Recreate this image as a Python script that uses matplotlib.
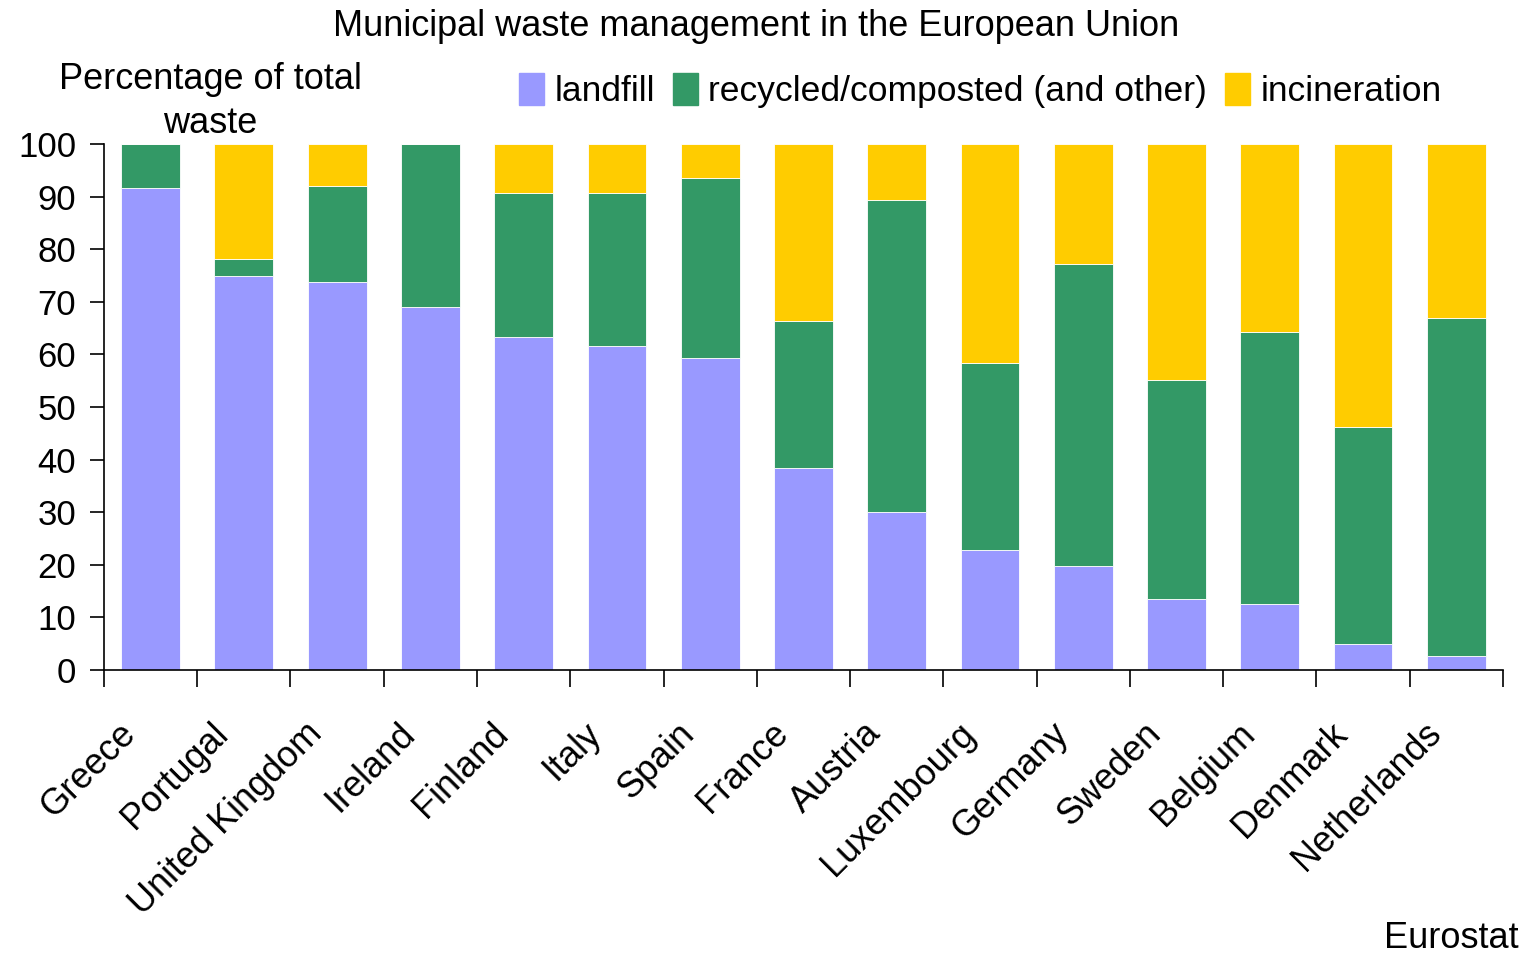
import numpy as np
import matplotlib.pyplot as plt
from matplotlib.patches import Patch
from matplotlib.transforms import ScaledTranslation

plt.rcParams['font.family'] = ['Liberation Sans', 'DejaVu Sans']

# donnees (en %)
pays = ['Greece', 'Portugal', 'United Kingdom', 'Ireland', 'Finland', 'Italy',
        'Spain', 'France', 'Austria', 'Luxembourg', 'Germany', 'Sweden',
        'Belgium', 'Denmark', 'Netherlands']
landfill = [91.6, 74.9, 73.8, 69.0, 63.3, 61.6, 59.3, 38.4, 30.0, 22.8, 19.8,
            13.5, 12.5, 4.9, 2.7]
recycled = [8.4, 3.2, 18.2, 31.0, 27.4, 29.1, 34.2, 27.9, 59.4, 35.6, 57.4,
            41.6, 51.8, 41.3, 64.2]
incineration = [0.0, 21.9, 8.0, 0.0, 9.3, 9.3, 6.5, 33.7, 10.6, 41.6, 22.8,
                44.9, 35.7, 53.8, 33.1]

couleurs = {'landfill': '#9999FF', 'recycled/composted (and other)': '#339966',
            'incineration': '#FFCC00'}

fig = plt.figure(figsize=(15.22, 9.56), dpi=100)
ax = fig.add_axes([0.0683, 0.2992, 0.9192, 0.5502])

x = np.arange(len(pays))
bas = np.zeros(len(pays))
for serie, nom in zip([landfill, recycled, incineration], couleurs):
    ax.bar(x, serie, bottom=bas, width=0.63, color=couleurs[nom],
           edgecolor='white', linewidth=0.6)
    bas = bas + np.array(serie)

ax.set_xlim(-0.5, len(pays) - 0.5)
ax.set_ylim(0, 100)
ax.set_yticks(range(0, 101, 10))
ax.tick_params(axis='y', labelsize=25, length=10, width=1.2, direction='out', pad=10)
ax.set_xticks(x)
ax.set_xticklabels(pays, rotation=45, ha='right', rotation_mode='anchor', fontsize=26)
ax.tick_params(axis='x', which='major', length=0, pad=33)
ax.set_xticks(np.arange(-0.5, len(pays), 1), minor=True)
ax.tick_params(axis='x', which='minor', length=12, width=1.2, direction='out')
decal = ScaledTranslation(-0.33, 0, fig.dpi_scale_trans)
for lbl in ax.get_xticklabels():
    lbl.set_transform(lbl.get_transform() + decal)
for s in ['top', 'right']:
    ax.spines[s].set_visible(False)
ax.spines['left'].set_linewidth(1.2)
ax.spines['bottom'].set_linewidth(1.2)

fig.text(0.497, 0.972, 'Municipal waste management in the European Union',
         ha='center', va='center', fontsize=26)
fig.text(0.138, 0.894, 'Percentage of total\nwaste', ha='center', va='center',
         fontsize=26, linespacing=1.35)
fig.text(0.998, 0.018, 'Eurostat', ha='right', va='center', fontsize=26)

handles = [Patch(color=c, label=n) for n, c in couleurs.items()]
fig.legend(handles=handles, loc='center', bbox_to_anchor=(0.644, 0.905), ncol=3,
           frameon=False, fontsize=25.5, handlelength=0.7, handleheight=1.0,
           handletextpad=0.3, columnspacing=0.5)

plt.savefig('out.png', dpi=100)
